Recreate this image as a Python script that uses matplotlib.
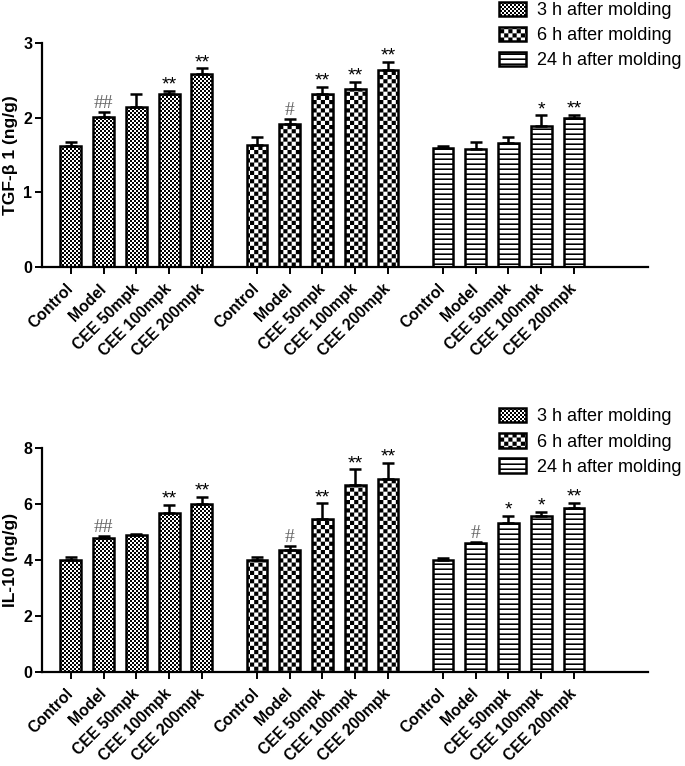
import numpy as np
import matplotlib
matplotlib.use('Agg')
import matplotlib.pyplot as plt
import matplotlib.hatch as mhatch
from matplotlib.path import Path

# donnees
groups = ['Control', 'Model', 'CEE 50mpk', 'CEE 100mpk', 'CEE 200mpk']
series = ['3 h after molding', '6 h after molding', '24 h after molding']

tgf_3h = [1.62, 2.01, 2.15, 2.32, 2.58]
tgf_3h_err = [0.06, 0.06, 0.17, 0.04, 0.08]
tgf_6h = [1.63, 1.92, 2.32, 2.38, 2.64]
tgf_6h_err = [0.11, 0.06, 0.09, 0.10, 0.11]
tgf_24h = [1.60, 1.58, 1.66, 1.89, 2.00]
tgf_24h_err = [0.02, 0.10, 0.08, 0.14, 0.04]

il10_3h = [3.99, 4.76, 4.87, 5.68, 5.99]
il10_3h_err = [0.09, 0.09, 0.05, 0.27, 0.26]
il10_6h = [4.00, 4.35, 5.44, 6.67, 6.90]
il10_6h_err = [0.10, 0.14, 0.57, 0.56, 0.56]
il10_24h = [3.99, 4.61, 5.30, 5.56, 5.83]
il10_24h_err = [0.08, 0.02, 0.26, 0.15, 0.21]

tgf_marks_3h = ['', '##', '', '**', '**']
tgf_marks_6h = ['', '#', '**', '**', '**']
tgf_marks_24h = ['', '', '', '*', '**']
il10_marks_3h = ['', '##', '', '**', '**']
il10_marks_6h = ['', '#', '**', '**', '**']
il10_marks_24h = ['', '#', '*', '*', '**']


# motifs de remplissage : damier fin ('o'), damier gros ('O'), rayures ('-')
class CheckerHatch(mhatch.HatchPatternBase):
    def __init__(self, hatch, density):
        self.n = 50 if 'o' in hatch else (24 if 'O' in hatch else 0)
        self.cells = [(i, j) for i in range(self.n) for j in range(self.n) if (i + j) % 2 == 0]
        self.num_vertices = 5 * len(self.cells)

    def set_vertices_and_codes(self, vertices, codes):
        s = 1.0 / self.n
        for k, (i, j) in enumerate(self.cells):
            x, y = i * s, j * s
            vertices[5 * k:5 * k + 5] = [(x, y), (x + s, y), (x + s, y + s), (x, y + s), (x, y)]
            codes[5 * k:5 * k + 5] = [Path.MOVETO, Path.LINETO, Path.LINETO, Path.LINETO, Path.CLOSEPOLY]


class StripeHatch(mhatch.HatchPatternBase):
    def __init__(self, hatch, density):
        self.n = 20 if '-' in hatch else 0
        self.num_vertices = 5 * self.n

    def set_vertices_and_codes(self, vertices, codes):
        h = 0.32 / max(self.n, 1)
        for k in range(self.n):
            y = k / self.n
            vertices[5 * k:5 * k + 5] = [(0, y), (1, y), (1, y + h), (0, y + h), (0, y)]
            codes[5 * k:5 * k + 5] = [Path.MOVETO, Path.LINETO, Path.LINETO, Path.LINETO, Path.CLOSEPOLY]


mhatch._hatch_types[:] = [CheckerHatch, StripeHatch]

plt.rcParams['font.family'] = ['Liberation Sans', 'DejaVu Sans']
plt.rcParams['hatch.linewidth'] = 0.0
plt.rcParams['hatch.color'] = 'black'

hatches = ['o', 'O', '-']
gap = 5.68
width = 0.64

fig = plt.figure(figsize=(6.85, 7.66), dpi=100)
ax1 = fig.add_axes([0.0613, 0.6514, 0.8847, 0.2924])
ax2 = fig.add_axes([0.0613, 0.1231, 0.8847, 0.2924])

panels = [
    (ax1, [tgf_3h, tgf_6h, tgf_24h], [tgf_3h_err, tgf_6h_err, tgf_24h_err],
     [tgf_marks_3h, tgf_marks_6h, tgf_marks_24h], 3, 'TGF-β 1 (ng/g)', 0.998),
    (ax2, [il10_3h, il10_6h, il10_24h], [il10_3h_err, il10_6h_err, il10_24h_err],
     [il10_marks_3h, il10_marks_6h, il10_marks_24h], 8, 'IL-10 (ng/g)', 0.4675),
]

for ax, vals, errs, marks, ymax, ylabel, leg_y in panels:
    all_x = []
    handles = []
    for g in range(3):
        x = g * gap + np.arange(len(groups))
        all_x.extend(x)
        b = ax.bar(x, vals[g], width, color='white', edgecolor='black',
                   linewidth=1.8, hatch=hatches[g], zorder=2, label=series[g])
        handles.append(b)
        ax.errorbar(x, vals[g], yerr=[np.zeros(len(groups)), errs[g]], fmt='none',
                    ecolor='black', elinewidth=1.8, capsize=4.5, capthick=1.8, zorder=3)
        for xi, v, e, m in zip(x, vals[g], errs[g], marks[g]):
            if not m:
                continue
            if '#' in m:
                ax.annotate(m, (xi, v + e), xytext=(0, 0), textcoords='offset points',
                            ha='center', va='bottom', fontsize=14, color='#666666',
                            family='Liberation Serif')
            else:
                ax.annotate(m, (xi, v + e), xytext=(0, -2), textcoords='offset points',
                            ha='center', va='bottom', fontsize=14, color='black')

    ax.set_xlim(-0.885, 17.62)
    ax.set_ylim(0, ymax)
    ax.set_yticks(np.arange(0, ymax + 1, 1 if ymax == 3 else 2))
    ax.set_xticks(all_x)
    ax.set_xticklabels(groups * 3, rotation=45, ha='right', va='center',
                       rotation_mode='anchor', fontsize=11.3, fontweight='bold')
    for lab in ax.get_yticklabels():
        lab.set_fontweight('bold')
        lab.set_fontsize(11.5)
    ax.set_ylabel(ylabel, fontsize=12.5, fontweight='bold', labelpad=4)
    for side in ['top', 'right']:
        ax.spines[side].set_visible(False)
    for side in ['left', 'bottom']:
        ax.spines[side].set_linewidth(1.6)
    ax.tick_params(axis='x', length=5, width=1.4, pad=9)
    ax.tick_params(axis='y', length=5, width=1.4, pad=2)

    ax.legend(handles=handles, loc='upper left', bbox_to_anchor=(0.728, leg_y),
              bbox_transform=fig.transFigure, frameon=False, fontsize=13,
              borderpad=0, handlelength=1.5, handleheight=0.85,
              handletextpad=0.6, labelspacing=0.43, borderaxespad=0)

fig.savefig('out.png', dpi=100)
